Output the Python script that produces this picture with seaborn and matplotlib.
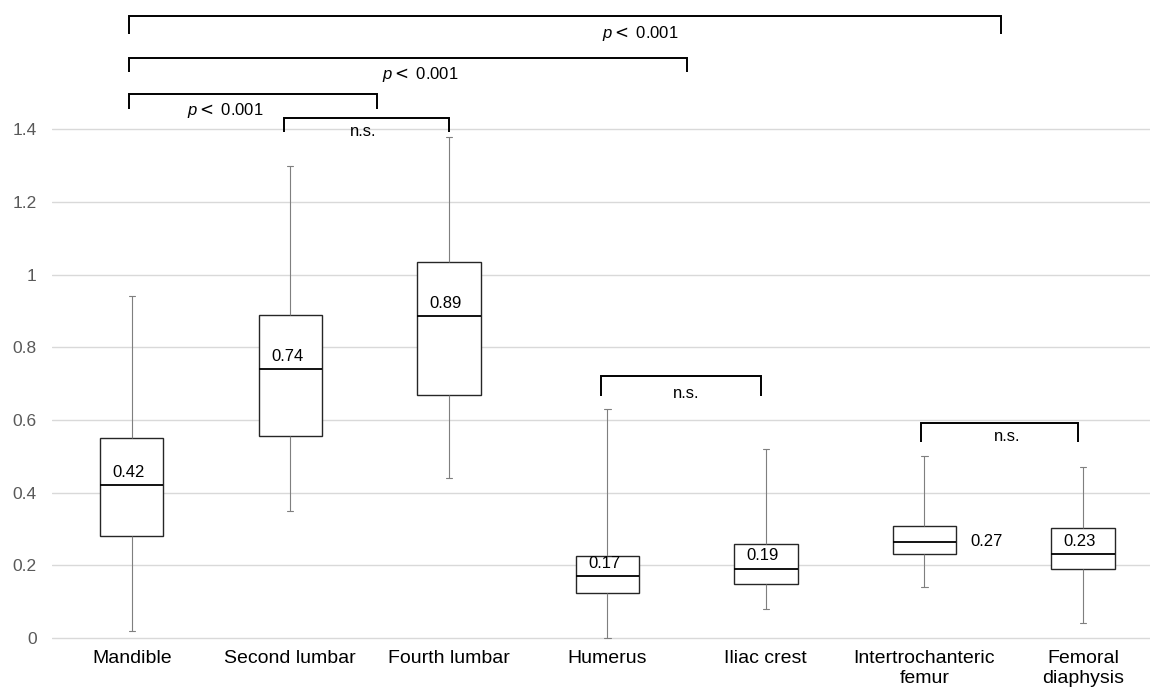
import pandas as pd
import seaborn as sns
import matplotlib.pyplot as plt
import numpy as np

# Five-number summaries (whisker low, Q1, median, Q3, whisker high)
sites = ["Mandible", "Second lumbar", "Fourth lumbar", "Humerus", "Iliac crest",
         "Intertrochanteric\nfemur", "Femoral\ndiaphysis"]
wlow = [0.02, 0.35, 0.44, 0.00, 0.08, 0.14, 0.04]
q1 = [0.28, 0.555, 0.668, 0.125, 0.15, 0.23, 0.19]
median = [0.42, 0.74, 0.885, 0.17, 0.19, 0.265, 0.23]
q3 = [0.55, 0.89, 1.035, 0.225, 0.26, 0.309, 0.302]
whigh = [0.94, 1.30, 1.38, 0.63, 0.52, 0.50, 0.47]
median_labels = ["0.42", "0.74", "0.89", "0.17", "0.19", "0.27", "0.23"]
label_side = ["top", "top", "top", "top", "top", "right", "top"]

# Significance brackets: (x left, x right, y top, y bottom, text, text x, text y)
brackets = [
    (-0.02, 5.48, 1.713, 1.662, "$p<$ 0.001", 3.21, 1.665),
    (-0.02, 3.50, 1.597, 1.557, "$p<$ 0.001", 1.82, 1.550),
    (-0.02, 1.55, 1.497, 1.456, "$p<$ 0.001", 0.59, 1.453),
    (0.96, 2.00, 1.432, 1.392, "n.s.", 1.46, 1.394),
    (2.96, 3.97, 0.722, 0.665, "n.s.", 3.50, 0.674),
    (4.98, 5.97, 0.592, 0.539, "n.s.", 5.52, 0.554),
]

# long form: five values per site give exactly these quartiles with whis=(0, 100)
rows = []
for i, s in enumerate(sites):
    for v in (wlow[i], q1[i], median[i], q3[i], whigh[i]):
        rows.append({"site": s, "value": v})
df = pd.DataFrame(rows)

sns.set_theme(style="white")
plt.rcParams['font.family'] = ['Liberation Sans', 'DejaVu Sans']
plt.rcParams['mathtext.fontset'] = 'custom'
plt.rcParams['mathtext.it'] = 'Liberation Sans:italic'
plt.rcParams['mathtext.rm'] = 'DejaVu Sans'

fig = plt.figure(figsize=(11.5, 6.9), dpi=100)
ax = fig.add_axes([52 / 1150, 50 / 690, 1098 / 1150, 640 / 690])

sns.boxplot(data=df, x="site", y="value", order=sites, whis=(0, 100), width=0.4,
            ax=ax, linewidth=1.0, capwidths=0.04,
            boxprops=dict(facecolor="white", edgecolor="#262626", linewidth=1.0),
            medianprops=dict(color="black", linewidth=1.3),
            whiskerprops=dict(color="#7f7f7f", linewidth=0.8),
            capprops=dict(color="#7f7f7f", linewidth=0.8),
            zorder=3)

# median labels
for i, lab in enumerate(median_labels):
    if label_side[i] == "right":
        ax.annotate(lab, (i, median[i]), xytext=(33, 0), textcoords="offset points",
                    ha="left", va="center", fontsize=12, color="black", zorder=5)
    else:
        ax.annotate(lab, (i - 0.02, median[i]), xytext=(0, 4), textcoords="offset points",
                    ha="center", va="bottom", fontsize=12, color="black", zorder=5)

# brackets
for x0, x1, ytop, ybot, txt, tx, ty in brackets:
    ax.plot([x0, x0, x1, x1], [ybot, ytop, ytop, ybot], color="black", lw=1.4,
            solid_capstyle="butt", solid_joinstyle="miter", clip_on=False, zorder=4)
    ax.text(tx, ty, txt, ha="center", va="center", fontsize=12, color="black", zorder=5)

ax.set_xlim(-0.503, 6.423)
ax.set_ylim(-0.0055, 1.756)
ax.set_yticks(np.arange(0, 1.41, 0.2))
ax.set_yticklabels(["0", "0.2", "0.4", "0.6", "0.8", "1", "1.2", "1.4"])
ax.yaxis.grid(True, color="#d9d9d9", linewidth=1.0, zorder=0)
ax.set_axisbelow(True)
ax.tick_params(axis="y", length=0, pad=11, labelsize=12.5, labelcolor="#595959")
ax.tick_params(axis="x", length=0, pad=7, labelsize=14, labelcolor="black")
for lab in ax.get_xticklabels():
    lab.set_linespacing(1.25)
ax.set_xlabel("")
ax.set_ylabel("")
for sp in ax.spines.values():
    sp.set_visible(False)

fig.savefig("out.png", dpi=100)
